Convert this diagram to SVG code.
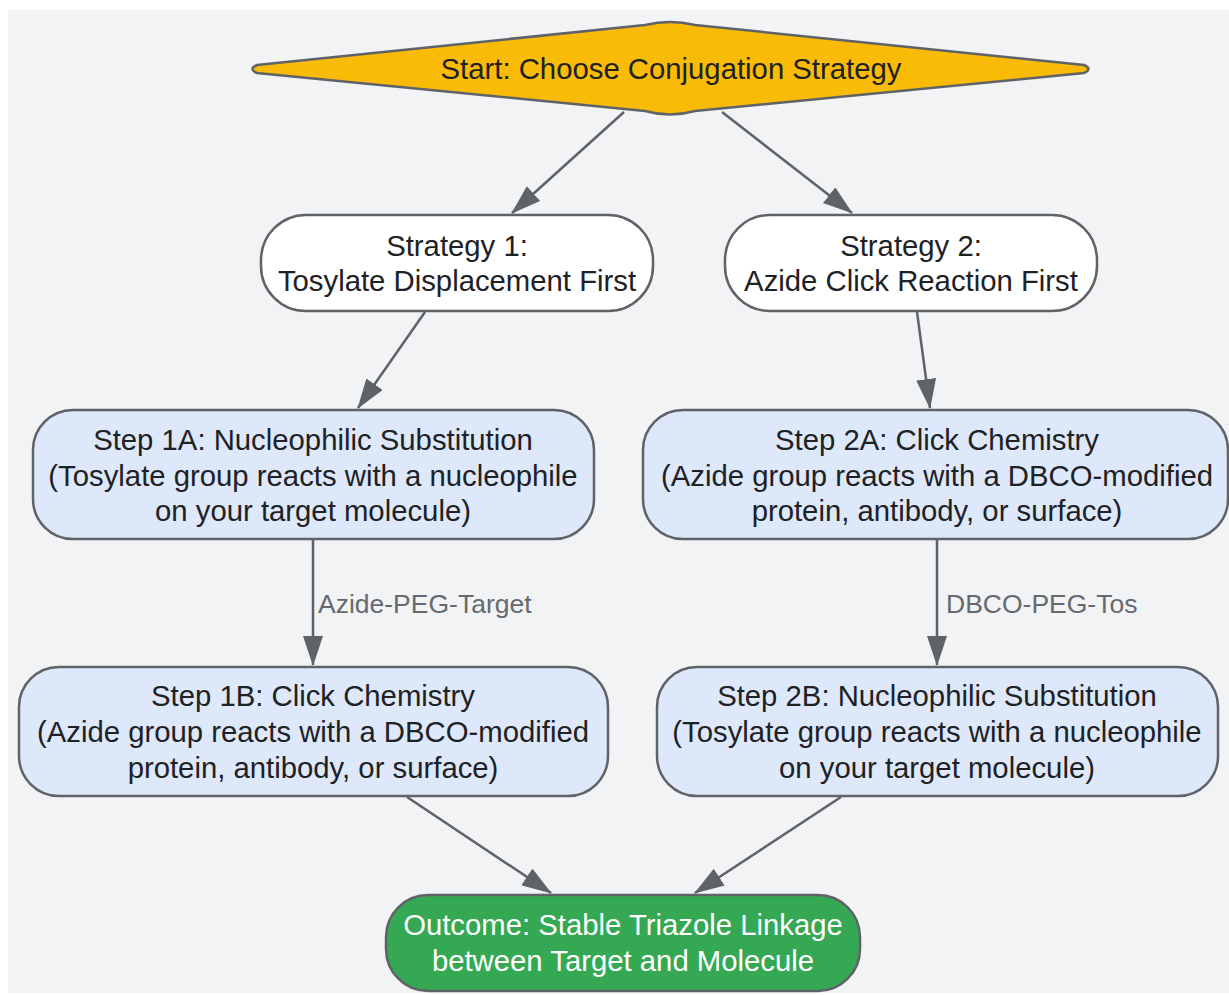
<svg xmlns="http://www.w3.org/2000/svg" width="1229" height="995" viewBox="0 0 1229 995">
<defs>
<marker id="arr" markerUnits="userSpaceOnUse" markerWidth="30" markerHeight="20" refX="29" refY="10" orient="auto">
<path d="M0,0 L30,10 L0,20 Z" fill="#5f6368"/>
</marker>
<style>
.n{stroke:#5f6368;stroke-width:2.5}
.t{font-family:"Liberation Sans",Arial,sans-serif;font-size:29.3px;fill:#202124;text-anchor:middle}
.w{fill:#ffffff}
.e{stroke:#5f6368;stroke-width:2.5;fill:none;marker-end:url(#arr)}
.l{font-family:"Liberation Sans",Arial,sans-serif;font-size:26.5px;fill:#666a6e}
</style>
</defs>
<rect x="0" y="0" width="1229" height="995" fill="#ffffff"/>
<rect x="8" y="10" width="1221" height="983" fill="#f1f3f5"/>
<g id="edges">
<line class="e" x1="624" y1="112" x2="512" y2="213"/>
<line class="e" x1="722" y1="112" x2="852" y2="213"/>
<line class="e" x1="425" y1="312" x2="358" y2="408"/>
<line class="e" x1="917" y1="312" x2="930" y2="408"/>
<line class="e" x1="313" y1="540" x2="313" y2="665"/>
<line class="e" x1="937" y1="540" x2="937" y2="665"/>
<line class="e" x1="407" y1="797" x2="551" y2="893"/>
<line class="e" x1="841" y1="797" x2="695" y2="893"/>
<text class="l" x="318" y="613">Azide-PEG-Target</text>
<text class="l" x="946" y="613">DBCO-PEG-Tos</text>
</g>
<g id="start">
<path class="n" fill="#f9bb05" d="M257,65 L645,25 Q670,19 695,25 L1084,65 Q1093,69 1084,73 L695,111 Q670,118 645,111 L257,73 Q248,69 257,65 Z"/>
<text class="t" x="671" y="79">Start: Choose Conjugation Strategy</text>
</g>
<g id="strategy1">
<rect class="n" x="261" y="215" width="392" height="96" rx="45" fill="#ffffff"/>
<text class="t" x="457" y="256">Strategy 1:</text>
<text class="t" x="457" y="291">Tosylate Displacement First</text>
</g>
<g id="strategy2">
<rect class="n" x="725" y="215" width="372" height="96" rx="45" fill="#ffffff"/>
<text class="t" x="911" y="256">Strategy 2:</text>
<text class="t" x="911" y="291">Azide Click Reaction First</text>
</g>
<g id="step1a">
<rect class="n" x="33" y="410" width="561" height="129" rx="40" fill="#dde8fa"/>
<text class="t" x="313" y="450">Step 1A: Nucleophilic Substitution</text>
<text class="t" x="313" y="486">(Tosylate group reacts with a nucleophile</text>
<text class="t" x="313" y="521">on your target molecule)</text>
</g>
<g id="step2a">
<rect class="n" x="643" y="410" width="585" height="129" rx="40" fill="#dde8fa"/>
<text class="t" x="937" y="450">Step 2A: Click Chemistry</text>
<text class="t" x="937" y="486">(Azide group reacts with a DBCO-modified</text>
<text class="t" x="937" y="521">protein, antibody, or surface)</text>
</g>
<g id="step1b">
<rect class="n" x="19" y="667" width="589" height="129" rx="40" fill="#dde8fa"/>
<text class="t" x="313" y="706">Step 1B: Click Chemistry</text>
<text class="t" x="313" y="742">(Azide group reacts with a DBCO-modified</text>
<text class="t" x="313" y="778">protein, antibody, or surface)</text>
</g>
<g id="step2b">
<rect class="n" x="657" y="667" width="561" height="129" rx="40" fill="#dde8fa"/>
<text class="t" x="937" y="706">Step 2B: Nucleophilic Substitution</text>
<text class="t" x="937" y="742">(Tosylate group reacts with a nucleophile</text>
<text class="t" x="937" y="778">on your target molecule)</text>
</g>
<g id="outcome">
<rect class="n" x="386" y="895" width="474" height="96" rx="42" fill="#34a853"/>
<text class="t w" x="623" y="935">Outcome: Stable Triazole Linkage</text>
<text class="t w" x="623" y="971">between Target and Molecule</text>
</g>
</svg>
